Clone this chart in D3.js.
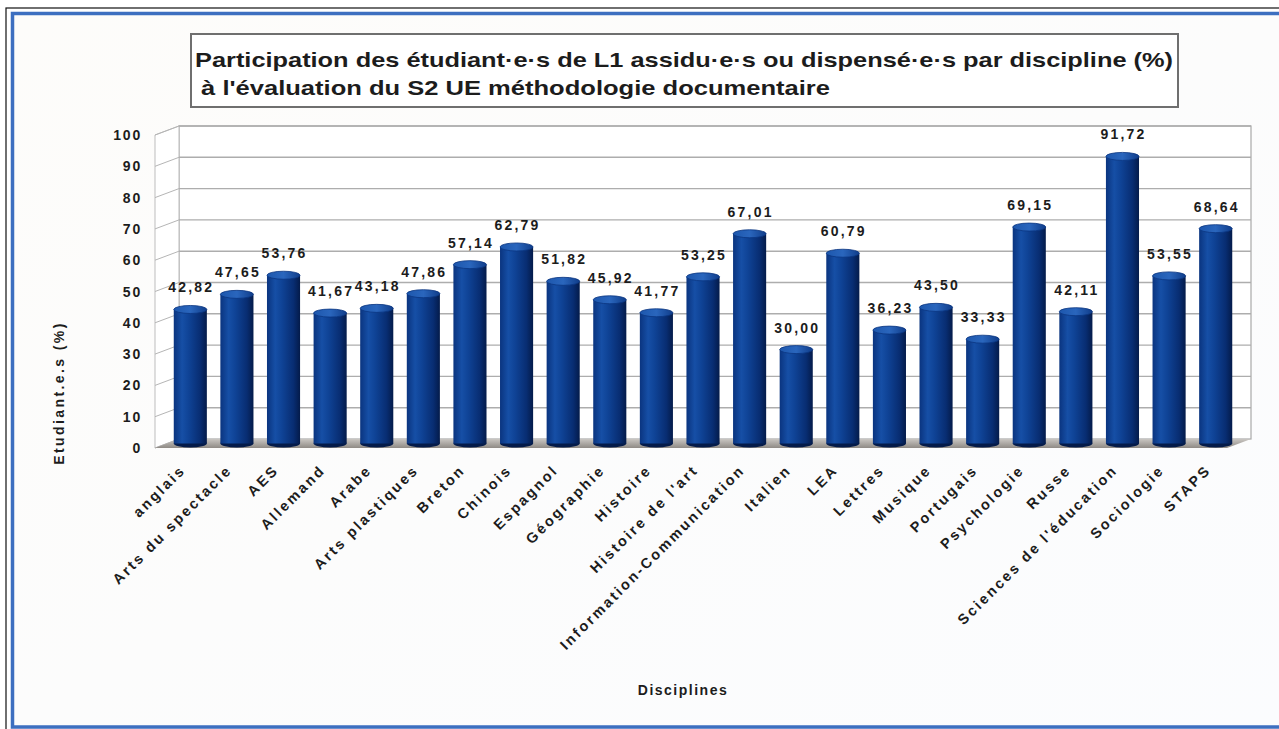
<!DOCTYPE html>
<html>
<head>
<meta charset="utf-8">
<script src="https://cdn.jsdelivr.net/npm/d3@7"></script>
<style>
  html, body { margin: 0; padding: 0; background: #ffffff; }
  svg { display: block; }
  text { font-family: "Liberation Sans", Arial, sans-serif; font-weight: bold; fill: #1c1c1c; }
</style>
</head>
<body>
<svg id="chart" width="1279" height="729"></svg>
<script>
// ---- Data ----
const categories = ["anglais", "Arts du spectacle", "AES", "Allemand", "Arabe", "Arts plastiques",
  "Breton", "Chinois", "Espagnol", "Géographie", "Histoire", "Histoire de l'art",
  "Information-Communication", "Italien", "LEA", "Lettres", "Musique", "Portugais",
  "Psychologie", "Russe", "Sciences de l'éducation", "Sociologie", "STAPS"];
const values = [42.82, 47.65, 53.76, 41.67, 43.18, 47.86, 57.14, 62.79, 51.82, 45.92, 41.77, 53.25,
  67.01, 30.00, 60.79, 36.23, 43.50, 33.33, 69.15, 42.11, 91.72, 53.55, 68.64];
const yTicks = [0, 10, 20, 30, 40, 50, 60, 70, 80, 90, 100];
const titleLines = ["Participation des étudiant·e·s de L1 assidu·e·s ou dispensé·e·s par discipline (%)",
  " à l'évaluation du S2 UE méthodologie documentaire"];
const yTitle = "Etudiant.e.s (%)";
const xTitle = "Disciplines";

// ---- Layout ----
const svg = d3.select("#chart");
const W = 1279, H = 729;
const DX = 24, DY = -9;            // 3D depth offset (front -> back)
const x = d3.scaleBand().domain(categories).range([167, 1239]).paddingInner(0.29).paddingOuter(0.145);
const y = d3.scaleLinear().domain([0, 100]).range([443.5, 130.5]); // mid-depth
const yFront = v => y(v) - DY / 2;
const yBack = v => y(v) + DY / 2;
const xLeftFront = 167 - DX / 2, xLeftBack = 167 + DX / 2;
const xRightFront = 1239 - DX / 2, xRightBack = 1239 + DX / 2;

const defs = svg.append("defs");
const bg = defs.append("linearGradient").attr("id", "bgGrad").attr("x1", 0).attr("y1", 0).attr("x2", 1).attr("y2", 1);
bg.append("stop").attr("offset", 0).attr("stop-color", "#fdfcfa");
bg.append("stop").attr("offset", 1).attr("stop-color", "#fbfcfe");

const barGrad = defs.append("linearGradient").attr("id", "barGrad").attr("x1", 0).attr("x2", 1).attr("y1", 0).attr("y2", 0);
[[0, "#0a347f"], [0.25, "#164fa6"], [0.45, "#0f4396"], [0.8, "#082d72"], [1, "#041b4a"]]
  .forEach(([o, c]) => barGrad.append("stop").attr("offset", o).attr("stop-color", c));
const topGrad = defs.append("linearGradient").attr("id", "topGrad").attr("x1", 0).attr("x2", 1).attr("y1", 0).attr("y2", 0);
[[0, "#1d57ad"], [0.5, "#2a66bd"], [1, "#103d8a"]]
  .forEach(([o, c]) => topGrad.append("stop").attr("offset", o).attr("stop-color", c));
const floorGrad = defs.append("linearGradient").attr("id", "floorGrad").attr("x1", 0).attr("x2", 0).attr("y1", 0).attr("y2", 1);
floorGrad.append("stop").attr("offset", 0).attr("stop-color", "#c9c6c2");
floorGrad.append("stop").attr("offset", 1).attr("stop-color", "#8f8a85");

// Frame
svg.append("rect").attr("x", 6).attr("y", 8).attr("width", W).attr("height", H).attr("fill", "#ffffff")
  .attr("stroke", "#111").attr("stroke-width", 1.2);
svg.append("rect").attr("x", 12.5).attr("y", 13.5).attr("width", W + 10).attr("height", 713.5)
  .attr("fill", "url(#bgGrad)").attr("stroke", "#3d6fc0").attr("stroke-width", 3.5);

// Title box
svg.append("rect").attr("x", 191).attr("y", 34).attr("width", 987).attr("height", 73)
  .attr("fill", "#ffffff").attr("stroke", "#6f6f6f").attr("stroke-width", 2);
svg.append("text").attr("x", 195).attr("y", 67).attr("font-size", 21)
  .attr("textLength", 978).attr("lengthAdjust", "spacingAndGlyphs")
  .text(titleLines[0]);
svg.append("text").attr("x", 194).attr("y", 95).attr("font-size", 21)
  .attr("textLength", 636).attr("lengthAdjust", "spacingAndGlyphs").style("white-space", "pre")
  .text(titleLines[1]);

// Back wall
svg.append("rect").attr("x", xLeftBack).attr("y", yBack(100)).attr("width", xRightBack - xLeftBack)
  .attr("height", yBack(0) - yBack(100)).attr("fill", "#ffffff").attr("stroke", "#a9a9a9").attr("stroke-width", 1.2);
// Left wall
svg.append("polygon")
  .attr("points", [[xLeftFront, yFront(100)], [xLeftBack, yBack(100)], [xLeftBack, yBack(0)], [xLeftFront, yFront(0)]].map(p => p.join(",")).join(" "))
  .attr("fill", "#ffffff").attr("stroke", "#bdbdbd").attr("stroke-width", 1);

// Gridlines
const grid = svg.append("g");
yTicks.forEach(t => {
  if (t > 0) grid.append("line").attr("x1", xLeftBack).attr("x2", xRightBack).attr("y1", yBack(t)).attr("y2", yBack(t))
    .attr("stroke", "#adadad").attr("stroke-width", 1.4);
  grid.append("line").attr("x1", xLeftFront).attr("x2", xLeftBack).attr("y1", yFront(t)).attr("y2", yBack(t))
    .attr("stroke", "#b5b5b5").attr("stroke-width", 1);
});

// Floor
svg.append("polygon")
  .attr("points", [[xLeftFront, yFront(0)], [xLeftBack, yBack(0)], [xRightBack, yBack(0)], [xRightFront, yFront(0)]].map(p => p.join(",")).join(" "))
  .attr("fill", "url(#floorGrad)");

// Y axis tick labels
svg.append("g").selectAll("text").data(yTicks).join("text")
  .attr("x", 142).attr("y", d => yFront(d)).attr("dy", "0.36em")
  .attr("text-anchor", "end").attr("font-size", 14).attr("letter-spacing", 1.8)
  .text(d => d);

// Bars (cylinders)
const bw = x.bandwidth();
const ry = 4;
const bars = svg.append("g").selectAll("g").data(categories).join("g");
bars.append("ellipse")
  .attr("cx", d => x(d) + bw / 2).attr("cy", y(0)).attr("rx", bw / 2).attr("ry", ry)
  .attr("fill", "#041b4a");
bars.append("rect")
  .attr("x", d => x(d)).attr("width", bw)
  .attr("y", (d, i) => y(values[i])).attr("height", (d, i) => y(0) - y(values[i]))
  .attr("fill", "url(#barGrad)");
bars.append("ellipse")
  .attr("cx", d => x(d) + bw / 2).attr("cy", (d, i) => y(values[i])).attr("rx", bw / 2).attr("ry", ry)
  .attr("fill", "url(#topGrad)").attr("stroke", "#0a3580").attr("stroke-width", 0.8);

// Value labels
svg.append("g").selectAll("text").data(categories).join("text")
  .attr("x", d => x(d) + bw / 2 + 1).attr("y", (d, i) => y(values[i]) - 17)
  .attr("text-anchor", "middle").attr("font-size", 14).attr("letter-spacing", 2.2)
  .text((d, i) => values[i].toFixed(2).replace(".", ","));

// X axis labels (rotated)
svg.append("g").selectAll("text").data(categories).join("text")
  .attr("transform", d => `translate(${x(d) + bw / 2 - 4},${471}) rotate(-45)`)
  .attr("text-anchor", "end").attr("font-size", 14.5).attr("letter-spacing", 2.4)
  .text(d => d);

// Axis titles
svg.append("text").attr("transform", "translate(64,393) rotate(-90)")
  .attr("text-anchor", "middle").attr("font-size", 14).attr("letter-spacing", 2.4).text(yTitle);
svg.append("text").attr("x", 683).attr("y", 695)
  .attr("text-anchor", "middle").attr("font-size", 14).attr("letter-spacing", 1.5).text(xTitle);
</script>
</body>
</html>
